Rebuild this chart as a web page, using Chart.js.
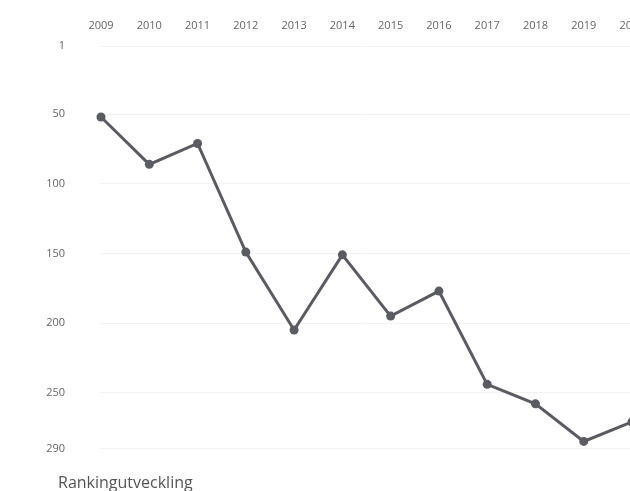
<!DOCTYPE html>
<html>
<head>
<meta charset="utf-8">
<script src="https://cdn.jsdelivr.net/npm/chart.js@4/dist/chart.umd.min.js"></script>
<style>
  html, body { margin: 0; padding: 0; background: #fff; overflow: hidden; }
  #wrap { position: relative; width: 630px; height: 491px; overflow: hidden; }
  #box { position: absolute; left: 0; top: 0; width: 660px; height: 491px; }
  #title {
    position: absolute; left: 58px; top: 471px;
    font-family: "Open Sans", sans-serif; font-size: 16px; color: #555;
    white-space: nowrap;
  }
</style>
</head>
<body>
<div id="wrap">
  <div id="box"><canvas id="rankChart"></canvas></div>
  <div id="title">Rankingutveckling</div>
</div>
<script>
// data
const years = ['2009', '2010', '2011', '2012', '2013', '2014', '2015', '2016', '2017', '2018', '2019', '2020'];
const ranking = [52, 86, 71, 149, 205, 151, 195, 177, 244, 258, 285, 271];
const rankTicks = [1, 50, 100, 150, 200, 250, 290];

const lineColor = '#5b5b62';
const tickColor = '#666666';

function renderChart() {
    const ctx = document.getElementById('rankChart').getContext('2d');

    new Chart(ctx, {
        type: 'line',
        data: {
            labels: years,
            datasets: [{
                data: ranking,
                borderColor: lineColor,
                backgroundColor: lineColor,
                borderWidth: 3,
                pointRadius: 4.5,
                pointBorderWidth: 0,
                tension: 0,
                clip: false
            }]
        },
        options: {
            responsive: true,
            maintainAspectRatio: false,
            animation: false,
            layout: { padding: { left: 0, right: 28, top: 0, bottom: 41 } },
            plugins: { legend: { display: false }, tooltip: { enabled: false } },
            scales: {
                x: {
                    position: 'top',
                    offset: false,
                    border: { display: false },
                    grid: { display: false, drawTicks: false },
                    ticks: {
                        color: tickColor,
                        font: { family: 'Open Sans', size: 11 },
                        padding: 14,
                        maxRotation: 0,
                        autoSkip: false
                    },
                    afterFit: (scale) => { scale.height = 46; }
                },
                y: {
                    reverse: true,
                    min: 1,
                    max: 290,
                    border: { display: false },
                    grid: { color: '#f3f3f3', drawTicks: false },
                    ticks: {
                        color: tickColor,
                        font: { family: 'Open Sans', size: 11 },
                        padding: 36
                    },
                    afterBuildTicks: (scale) => {
                        scale.ticks = rankTicks.map(v => ({ value: v }));
                    },
                    afterFit: (scale) => { scale.width = 101; }
                }
            }
        }
    });
}

renderChart();
</script>
</body>
</html>
